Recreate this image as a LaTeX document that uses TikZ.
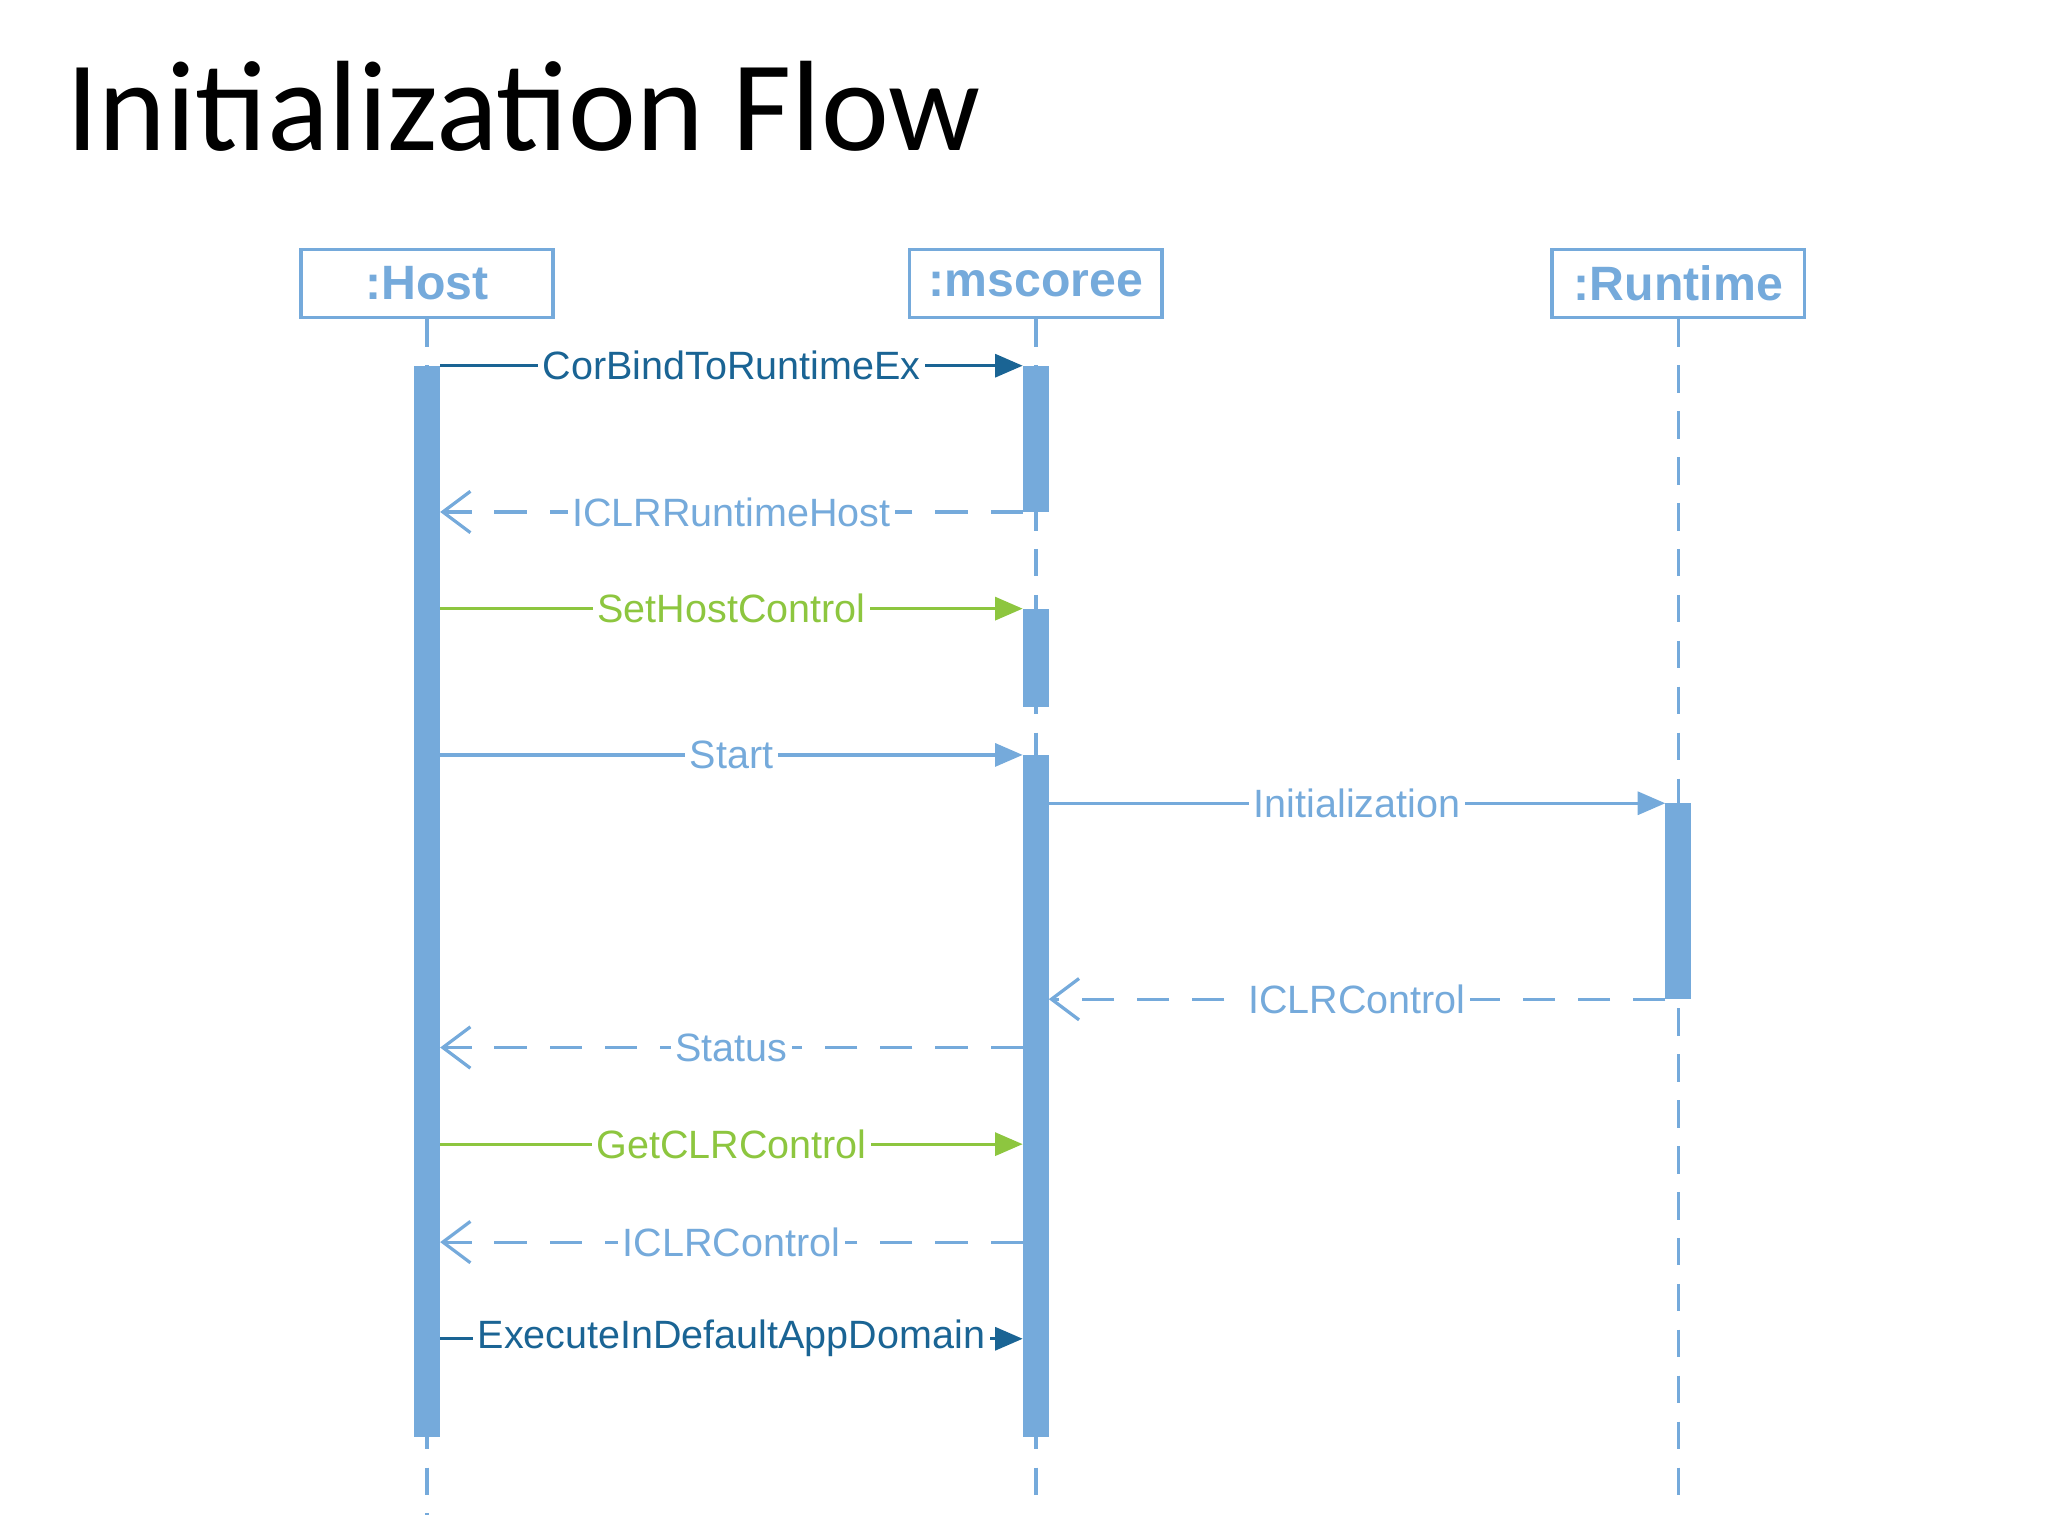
\documentclass[tikz,border=0pt]{standalone}
\usepackage{fontspec}
\setmainfont{Liberation Sans}
\newfontfamily\titlefont{Carlito}
\usetikzlibrary{arrows.meta}
\definecolor{lb}{HTML}{75AADB}
\definecolor{db}{HTML}{1A6494}
\definecolor{gr}{HTML}{8DC63F}
\begin{document}
\begin{tikzpicture}[x=0.01cm,y=-0.01cm,
  box/.style={draw=lb,line width=0.8pt,minimum width=1.93cm,minimum height=0.52cm,inner sep=0,text=lb,font=\fontsize{10.5}{12}\selectfont\bfseries},
  life/.style={lb,line width=0.8pt,dash pattern=on 6pt off 4pt},
  act/.style={fill=lb,draw=none},
  msg/.style={line width=0.7pt,-{Triangle[length=6pt,width=5pt]}},
  ret/.style={lb,line width=0.7pt,dash pattern=on 7pt off 5pt,-{Straight Barb[length=6pt,width=9pt]}},
  lab/.style={fill=white,inner sep=1pt,font=\fontsize{8.6}{10}\selectfont}]
\useasboundingbox (0,0) rectangle (1568,1176);
\node[anchor=base west,font=\titlefont\fontsize{28}{30}\selectfont,inner sep=0] (title) at (50,115) {Initialization Flow};
\node[box] (h) at (327,217) {:Host};
\node[box] (m) at (793,217) {:mscoree};
\node[box] (r) at (1285,217) {:Runtime};
\coordinate (he) at (327,1160); \coordinate (me) at (793,1150); \coordinate (re) at (1285,1150);
\draw[life] (h.south) -- (he);
\draw[life] (m.south) -- (me);
\draw[life] (r.south) -- (re);
\fill[act] (317,280) rectangle (337,1100);
\fill[act] (783,280) rectangle (803,392);
\fill[act] (783,466) rectangle (803,541);
\fill[act] (783,578) rectangle (803,1100);
\fill[act] (1275,615) rectangle (1295,765);
\coordinate (a1) at (337,280); \coordinate (b1) at (783,280);
\draw[msg,db] (a1) -- node[lab,text=db]{CorBindToRuntimeEx} (b1);
\coordinate (a2) at (783,392); \coordinate (b2) at (337,392);
\draw[ret] (a2) -- node[lab,text=lb]{ICLRRuntimeHost} (b2);
\coordinate (a3) at (337,466); \coordinate (b3) at (783,466);
\draw[msg,gr] (a3) -- node[lab,text=gr]{SetHostControl} (b3);
\coordinate (a4) at (337,578); \coordinate (b4) at (783,578);
\draw[msg,lb] (a4) -- node[lab,text=lb]{Start} (b4);
\coordinate (a5) at (803,615); \coordinate (b5) at (1275,615);
\draw[msg,lb] (a5) -- node[lab,text=lb]{Initialization} (b5);
\coordinate (a6) at (1275,765); \coordinate (b6) at (803,765);
\draw[ret] (a6) -- node[lab,text=lb]{ICLRControl} (b6);
\coordinate (a7) at (783,802); \coordinate (b7) at (337,802);
\draw[ret] (a7) -- node[lab,text=lb]{Status} (b7);
\coordinate (a8) at (337,876); \coordinate (b8) at (783,876);
\draw[msg,gr] (a8) -- node[lab,text=gr]{GetCLRControl} (b8);
\coordinate (a9) at (783,951); \coordinate (b9) at (337,951);
\draw[ret] (a9) -- node[lab,text=lb]{ICLRControl} (b9);
\coordinate (a10) at (337,1025); \coordinate (b10) at (783,1025);
\draw[msg,db] (a10) -- node[lab,text=db]{ExecuteInDefaultAppDomain} (b10);
\end{tikzpicture}
\end{document}
